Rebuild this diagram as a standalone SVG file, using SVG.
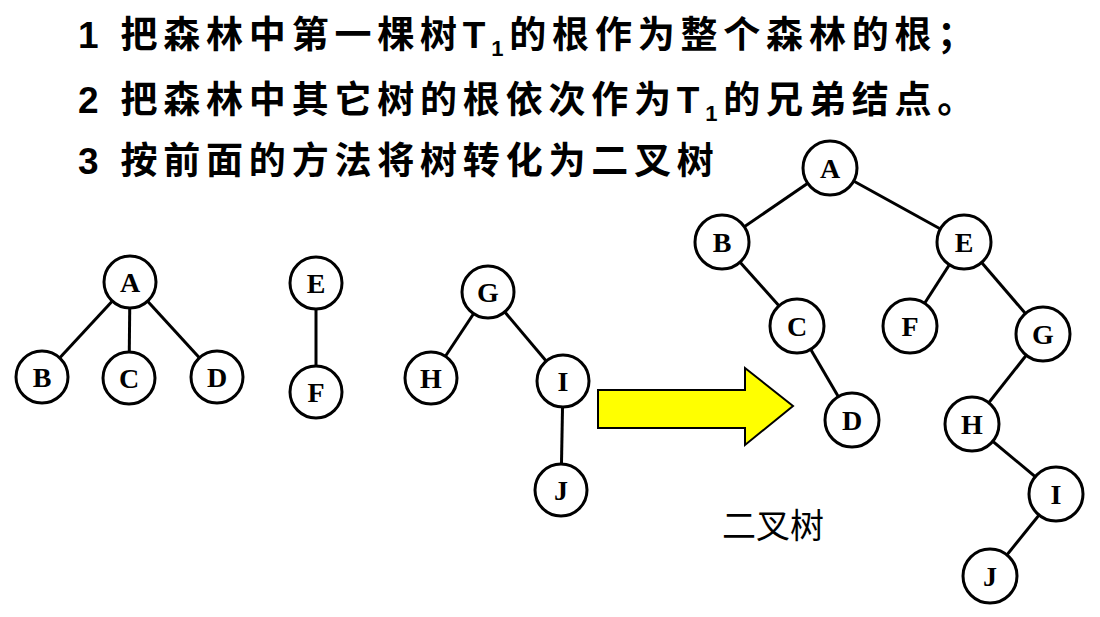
<svg xmlns="http://www.w3.org/2000/svg" width="1100" height="617" viewBox="0 0 1100 617">
<style>
.h{font-family:"Liberation Sans","Noto Sans CJK SC",sans-serif;font-weight:bold;font-size:37px;letter-spacing:5.8px;fill:#000}
.n circle{fill:#fff;stroke:#000;stroke-width:3}
.n text{font-family:"Liberation Serif",serif;font-weight:bold;font-size:28px;text-anchor:middle;fill:#000}
.e line{stroke:#000;stroke-width:3}
</style>
<rect width="1100" height="617" fill="#fff"/>
<text class="h" x="78" y="48">1 把森林中第一棵树T<tspan font-size="22" dy="8">1</tspan><tspan dy="-8">的根作为整个森林的根；</tspan></text>
<text class="h" x="78" y="113">2 把森林中其它树的根依次作为T<tspan font-size="22" dy="8">1</tspan><tspan dy="-8">的兄弟结点。</tspan></text>
<text class="h" x="78" y="174">3 按前面的方法将树转化为二叉树</text>
<g class="e">
<line x1="130" y1="282" x2="42" y2="377"/><line x1="130" y1="282" x2="129" y2="378"/><line x1="130" y1="282" x2="217" y2="377"/>
<line x1="316" y1="283" x2="316" y2="392"/>
<line x1="488" y1="292" x2="431" y2="378"/><line x1="488" y1="292" x2="563" y2="381"/><line x1="563" y1="381" x2="561" y2="490"/>
<line x1="830" y1="168" x2="722" y2="242"/><line x1="830" y1="168" x2="964" y2="242"/>
<line x1="722" y1="242" x2="797" y2="326"/><line x1="797" y1="326" x2="852" y2="420"/>
<line x1="964" y1="242" x2="910" y2="326"/><line x1="964" y1="242" x2="1043" y2="334"/>
<line x1="1043" y1="334" x2="972" y2="424"/><line x1="972" y1="424" x2="1056" y2="494"/><line x1="1056" y1="494" x2="990" y2="576"/>
</g>
<g class="n" id="lA"><circle cx="130" cy="282" r="26"/><text x="130" y="292">A</text></g>
<g class="n" id="lB"><circle cx="42" cy="377" r="26"/><text x="42" y="387">B</text></g>
<g class="n" id="lC"><circle cx="129" cy="378" r="26"/><text x="129" y="388">C</text></g>
<g class="n" id="lD"><circle cx="217" cy="377" r="26"/><text x="217" y="387">D</text></g>
<g class="n" id="lE"><circle cx="316" cy="283" r="26"/><text x="316" y="293">E</text></g>
<g class="n" id="lF"><circle cx="316" cy="392" r="26"/><text x="316" y="402">F</text></g>
<g class="n" id="lG"><circle cx="488" cy="292" r="26"/><text x="488" y="302">G</text></g>
<g class="n" id="lH"><circle cx="431" cy="378" r="26"/><text x="431" y="388">H</text></g>
<g class="n" id="lI"><circle cx="563" cy="381" r="26"/><text x="563" y="391">I</text></g>
<g class="n" id="lJ"><circle cx="561" cy="490" r="26"/><text x="561" y="500">J</text></g>
<g class="n" id="rA"><circle cx="830" cy="168" r="27"/><text x="830" y="178">A</text></g>
<g class="n" id="rB"><circle cx="722" cy="242" r="27"/><text x="722" y="252">B</text></g>
<g class="n" id="rE"><circle cx="964" cy="242" r="27"/><text x="964" y="252">E</text></g>
<g class="n" id="rC"><circle cx="797" cy="326" r="27"/><text x="797" y="336">C</text></g>
<g class="n" id="rF"><circle cx="910" cy="326" r="27"/><text x="910" y="336">F</text></g>
<g class="n" id="rG"><circle cx="1043" cy="334" r="27"/><text x="1043" y="344">G</text></g>
<g class="n" id="rD"><circle cx="852" cy="420" r="27"/><text x="852" y="430">D</text></g>
<g class="n" id="rH"><circle cx="972" cy="424" r="27"/><text x="972" y="434">H</text></g>
<g class="n" id="rI"><circle cx="1056" cy="494" r="27"/><text x="1056" y="504">I</text></g>
<g class="n" id="rJ"><circle cx="990" cy="576" r="27"/><text x="990" y="586">J</text></g>
<polygon points="598,390 745,390 745,368 793,406 745,445 745,428 598,428" fill="#ffff00" stroke="#000" stroke-width="2"/>
<text x="722" y="538" font-family="Liberation Sans,'Noto Sans CJK SC',sans-serif" font-size="34" fill="#000">二叉树</text>
</svg>
